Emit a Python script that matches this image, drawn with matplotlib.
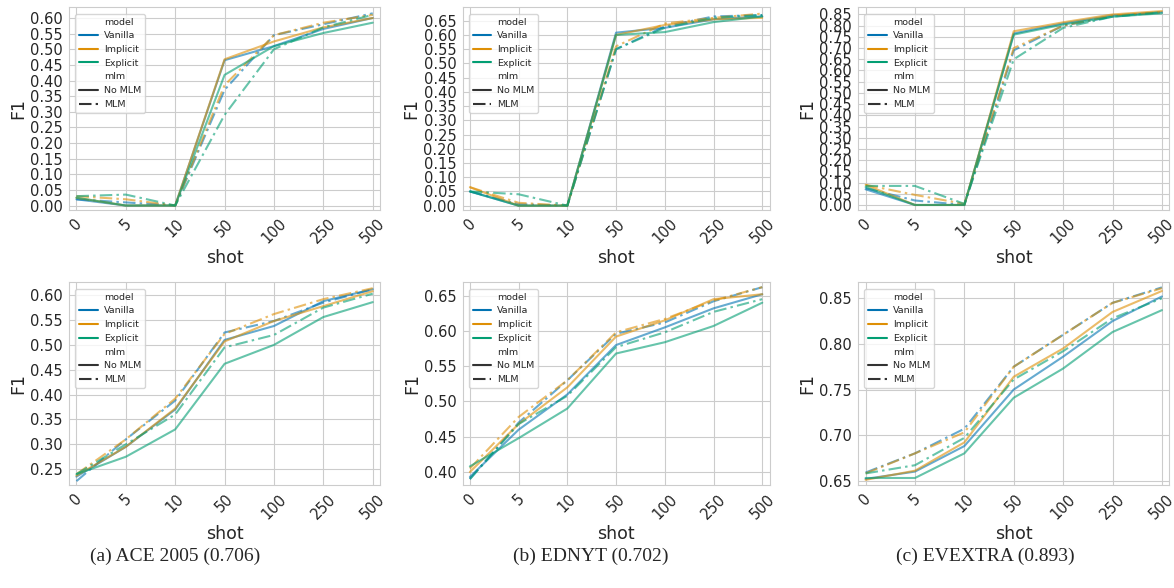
import matplotlib
matplotlib.use("Agg")
import matplotlib.pyplot as plt
from matplotlib.lines import Line2D
import seaborn as sns

sns.set_style("whitegrid")
plt.rcParams["font.family"] = ["DejaVu Sans"]

shots = ["0", "5", "10", "50", "100", "250", "500"]
models = ["Vanilla", "Implicit", "Explicit"]
colors = ["#0173b2", "#de8f05", "#029e73"]

# top row: (model, mlm) -> F1 per shot
ace_top_nomlm = [[0.02, 0.0, 0.0, 0.465, 0.51, 0.565, 0.60],
                 [0.025, 0.0, 0.0, 0.468, 0.525, 0.57, 0.60],
                 [0.025, 0.0, 0.0, 0.418, 0.51, 0.552, 0.585]]
ace_top_mlm = [[0.02, 0.01, 0.0, 0.37, 0.545, 0.58, 0.615],
               [0.03, 0.02, 0.0, 0.385, 0.545, 0.585, 0.61],
               [0.03, 0.035, 0.0, 0.29, 0.50, 0.57, 0.61]]
ednyt_top_nomlm = [[0.05, 0.0, 0.0, 0.608, 0.625, 0.655, 0.665],
                   [0.065, 0.0, 0.0, 0.60, 0.635, 0.655, 0.66],
                   [0.05, 0.0, 0.0, 0.60, 0.61, 0.645, 0.665]]
ednyt_top_mlm = [[0.05, 0.005, 0.0, 0.55, 0.63, 0.665, 0.67],
                 [0.065, 0.01, 0.0, 0.56, 0.64, 0.66, 0.675],
                 [0.05, 0.04, 0.0, 0.55, 0.625, 0.66, 0.67]]
evextra_top_nomlm = [[0.07, 0.0, 0.0, 0.765, 0.81, 0.845, 0.86],
                     [0.09, 0.0, 0.0, 0.775, 0.815, 0.85, 0.865],
                     [0.08, 0.0, 0.0, 0.76, 0.805, 0.84, 0.855]]
evextra_top_mlm = [[0.075, 0.02, 0.0, 0.69, 0.80, 0.84, 0.86],
                   [0.09, 0.045, 0.005, 0.70, 0.80, 0.845, 0.86],
                   [0.085, 0.085, 0.005, 0.65, 0.79, 0.84, 0.86]]

# bottom row
ace_bot_nomlm = [[0.235, 0.295, 0.37, 0.51, 0.538, 0.588, 0.612],
                 [0.237, 0.295, 0.372, 0.507, 0.548, 0.578, 0.608],
                 [0.24, 0.275, 0.33, 0.462, 0.50, 0.556, 0.586]]
ace_bot_mlm = [[0.226, 0.31, 0.388, 0.525, 0.548, 0.585, 0.612],
               [0.24, 0.31, 0.392, 0.522, 0.562, 0.592, 0.614],
               [0.24, 0.30, 0.36, 0.495, 0.52, 0.575, 0.603]]
ednyt_bot_nomlm = [[0.393, 0.46, 0.51, 0.58, 0.605, 0.632, 0.652],
                   [0.40, 0.468, 0.52, 0.592, 0.615, 0.645, 0.652],
                   [0.408, 0.448, 0.49, 0.568, 0.584, 0.607, 0.64]]
ednyt_bot_mlm = [[0.39, 0.47, 0.53, 0.596, 0.612, 0.642, 0.662],
                 [0.405, 0.478, 0.53, 0.598, 0.617, 0.643, 0.662],
                 [0.39, 0.468, 0.508, 0.577, 0.598, 0.627, 0.645]]
evextra_bot_nomlm = [[0.652, 0.66, 0.688, 0.75, 0.786, 0.825, 0.852],
                     [0.651, 0.661, 0.692, 0.764, 0.795, 0.835, 0.858],
                     [0.653, 0.653, 0.68, 0.741, 0.773, 0.813, 0.837]]
evextra_bot_mlm = [[0.659, 0.68, 0.707, 0.775, 0.81, 0.845, 0.862],
                   [0.658, 0.68, 0.703, 0.775, 0.81, 0.845, 0.861],
                   [0.658, 0.667, 0.697, 0.761, 0.792, 0.828, 0.85]]

captions = ["(a) ACE 2005 (0.706)", "(b) EDNYT (0.702)", "(c) EVEXTRA (0.893)"]

panels = [
    (ace_top_nomlm, ace_top_mlm, (-0.014, 0.635), [i * 0.05 for i in range(13)]),
    (ednyt_top_nomlm, ednyt_top_mlm, (-0.015, 0.698), [i * 0.05 for i in range(14)]),
    (evextra_top_nomlm, evextra_top_mlm, (-0.022, 0.883), [i * 0.05 for i in range(18)]),
    (ace_bot_nomlm, ace_bot_mlm, (0.218, 0.626), [0.25, 0.30, 0.35, 0.40, 0.45, 0.50, 0.55, 0.60]),
    (ednyt_bot_nomlm, ednyt_bot_mlm, (0.3815, 0.669), [0.40, 0.45, 0.50, 0.55, 0.60, 0.65]),
    (evextra_bot_nomlm, evextra_bot_mlm, (0.6452, 0.8676), [0.65, 0.70, 0.75, 0.80, 0.85]),
]

lefts = [0.0588, 0.394, 0.731]
widths = [0.265, 0.2615, 0.265]
bottoms = [0.643, 0.175]
height = 0.345

fig = plt.figure(figsize=(11.74, 5.88), dpi=100)
mlm_dash = (0, (6, 2, 1.2, 2))

for k, (nomlm, mlm, ylim, yticks) in enumerate(panels):
    row, col = divmod(k, 3)
    ax = fig.add_axes([lefts[col], bottoms[row], widths[col], height])
    x = range(len(shots))
    for m in range(3):
        ax.plot(x, nomlm[m], color=colors[m], alpha=0.6, lw=1.5, linestyle="-")
        ax.plot(x, mlm[m], color=colors[m], alpha=0.6, lw=1.5, linestyle=mlm_dash)
    ax.set_xlim(-0.15, 6.15)
    ax.set_ylim(*ylim)
    ax.set_yticks(yticks)
    ax.set_yticklabels(["%.2f" % t for t in yticks], fontsize=10.5, color="0.15")
    ax.set_xticks(list(x))
    ax.set_xticklabels(shots, rotation=45, fontsize=10.5, color="0.15")
    ax.tick_params(axis="both", pad=1)
    ax.set_xlabel("shot", fontsize=12.5, color="0.15", labelpad=2)
    ax.set_ylabel("F1", fontsize=12.5, color="0.15", labelpad=2)

    handles = [Line2D([], [], color="none")]
    labels = ["model"]
    for m in range(3):
        handles.append(Line2D([], [], color=colors[m], lw=1.5))
        labels.append(models[m])
    handles.append(Line2D([], [], color="none"))
    labels.append("mlm")
    handles.append(Line2D([], [], color="0.2", lw=1.5))
    labels.append("No MLM")
    handles.append(Line2D([], [], color="0.2", lw=1.5, linestyle=mlm_dash))
    labels.append("MLM")
    ax.legend(handles, labels, loc="upper left", fontsize=6.8, frameon=True,
              handlelength=2.0, handletextpad=0.6, labelspacing=0.5,
              borderpad=0.4, bbox_to_anchor=(0.005, 0.99))

caption_x = [0.149, 0.503, 0.839]
for c in range(3):
    fig.text(caption_x[c], 0.053, captions[c], ha="center", va="center",
             fontsize=14, family="Liberation Serif")

fig.savefig("out.png", dpi=100)
